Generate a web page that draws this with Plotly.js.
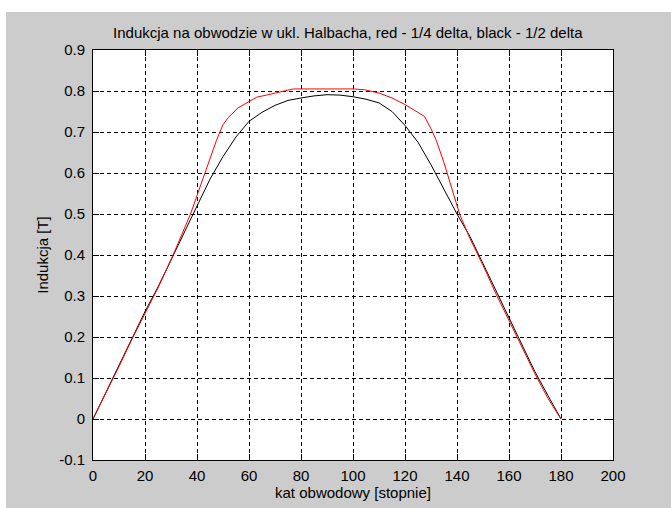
<!DOCTYPE html>
<html>
<head>
<meta charset="utf-8">
<script src="https://cdn.plot.ly/plotly-3.0.1.min.js"></script>
<style>html,body{margin:0;padding:0;background:#fff;}#chart{width:671px;height:508px;}</style>
</head>
<body>
<div id="chart"></div>
<script>
// Black curve: 1/2 delta
var blackX = [0,5,10,15,20,25,30,35,40,45,50,55,60,65,70,75,80,85,90,95,100,105,110,115,120,125,130,135,140,145,150,155,160,165,170,175,180];
var blackY = [0,0.066,0.132,0.198,0.262,0.322,0.388,0.455,0.52,0.585,0.64,0.688,0.726,0.748,0.765,0.777,0.783,0.788,0.791,0.79,0.786,0.78,0.771,0.75,0.716,0.675,0.62,0.56,0.5,0.445,0.379,0.311,0.245,0.18,0.115,0.057,0];

// Red curve: 1/4 delta
var redX = [0,5,10,15,20,25,30,35,37.5,40,42.5,45,47.5,50,52,55.8,60,63,66.7,70,77,100,104.5,110,115,120,124.5,127.5,130,132,135,138,141,145,150,155,160,165,170,175,180];
var redY = [0,0.062,0.128,0.195,0.258,0.32,0.388,0.46,0.5,0.545,0.59,0.635,0.68,0.718,0.735,0.759,0.775,0.785,0.79,0.795,0.805,0.805,0.803,0.795,0.783,0.767,0.75,0.738,0.708,0.68,0.625,0.565,0.5,0.44,0.375,0.305,0.24,0.175,0.11,0.05,0];

var xTickVals = [0,20,40,60,80,100,120,140,160,180,200];
var xTickText = ['0','20','40','60','80','100','120','140','160','180','200'];
var yTickVals = [-0.1,0,0.1,0.2,0.3,0.4,0.5,0.6,0.7,0.8,0.9];
var yTickText = ['-0.1','0','0.1','0.2','0.3','0.4','0.5','0.6','0.7','0.8','0.9'];

var titleText = 'Indukcja na obwodzie w ukl. Halbacha, red - 1/4 delta, black - 1/2 delta';
var xTitle = 'kat obwodowy [stopnie]';
var yTitle = 'Indukcja [T]';

var FONT = 'Liberation Sans, Arial, sans-serif';

var traces = [
  {x: blackX, y: blackY, type: 'scatter', mode: 'lines', line: {color: '#000000', width: 1}, hoverinfo: 'skip'},
  {x: redX, y: redY, type: 'scatter', mode: 'lines', line: {color: '#ff0000', width: 1}, hoverinfo: 'skip'}
];

var axisCommon = {
  showline: true, linecolor: '#000', linewidth: 1, mirror: 'ticks',
  ticks: 'inside', ticklen: 6, tickcolor: '#000', tickwidth: 1,
  showgrid: true, gridcolor: '#000', gridwidth: 1, griddash: '4px,3px',
  zeroline: false, tickmode: 'array',
  tickfont: {family: FONT, size: 15, color: '#000'}
};

var layout = {
  width: 671, height: 508,
  margin: {l: 93, r: 58, t: 50, b: 48, pad: 0},
  paper_bgcolor: '#cccccc', plot_bgcolor: '#ffffff',
  showlegend: false,
  font: {family: FONT, size: 15, color: '#000'},
  title: {text: titleText, font: {family: FONT, size: 15, color: '#000'},
          xref: 'paper', x: 0.49, xanchor: 'center', yref: 'container', y: 1 - 33/508, yanchor: 'middle'},
  xaxis: Object.assign({}, axisCommon, {
    range: [0, 200], tickvals: xTickVals, ticktext: xTickText, ticklabelstandoff: 2,
    title: {text: xTitle, font: {family: FONT, size: 15, color: '#000'}, standoff: 2}
  }),
  yaxis: Object.assign({}, axisCommon, {
    range: [-0.1, 0.9], tickvals: yTickVals, ticktext: yTickText, ticklabelstandoff: 4,
    title: {text: yTitle, font: {family: FONT, size: 15, color: '#000'}, standoff: 6}
  }),
  shapes: [
    {type: 'rect', xref: 'paper', yref: 'paper', x0: -0.2, x1: 1.2, y0: (460-12)/410, y1: 1.3, fillcolor: '#ffffff', line: {width: 0}, layer: 'above'},
    {type: 'rect', xref: 'paper', yref: 'paper', x0: -0.2, x1: (6-93)/520, y0: -0.2, y1: 1.3, fillcolor: '#ffffff', line: {width: 0}, layer: 'above'}
  ]
};

Plotly.newPlot('chart', traces, layout, {staticPlot: true, displayModeBar: false});
</script>
</body>
</html>
